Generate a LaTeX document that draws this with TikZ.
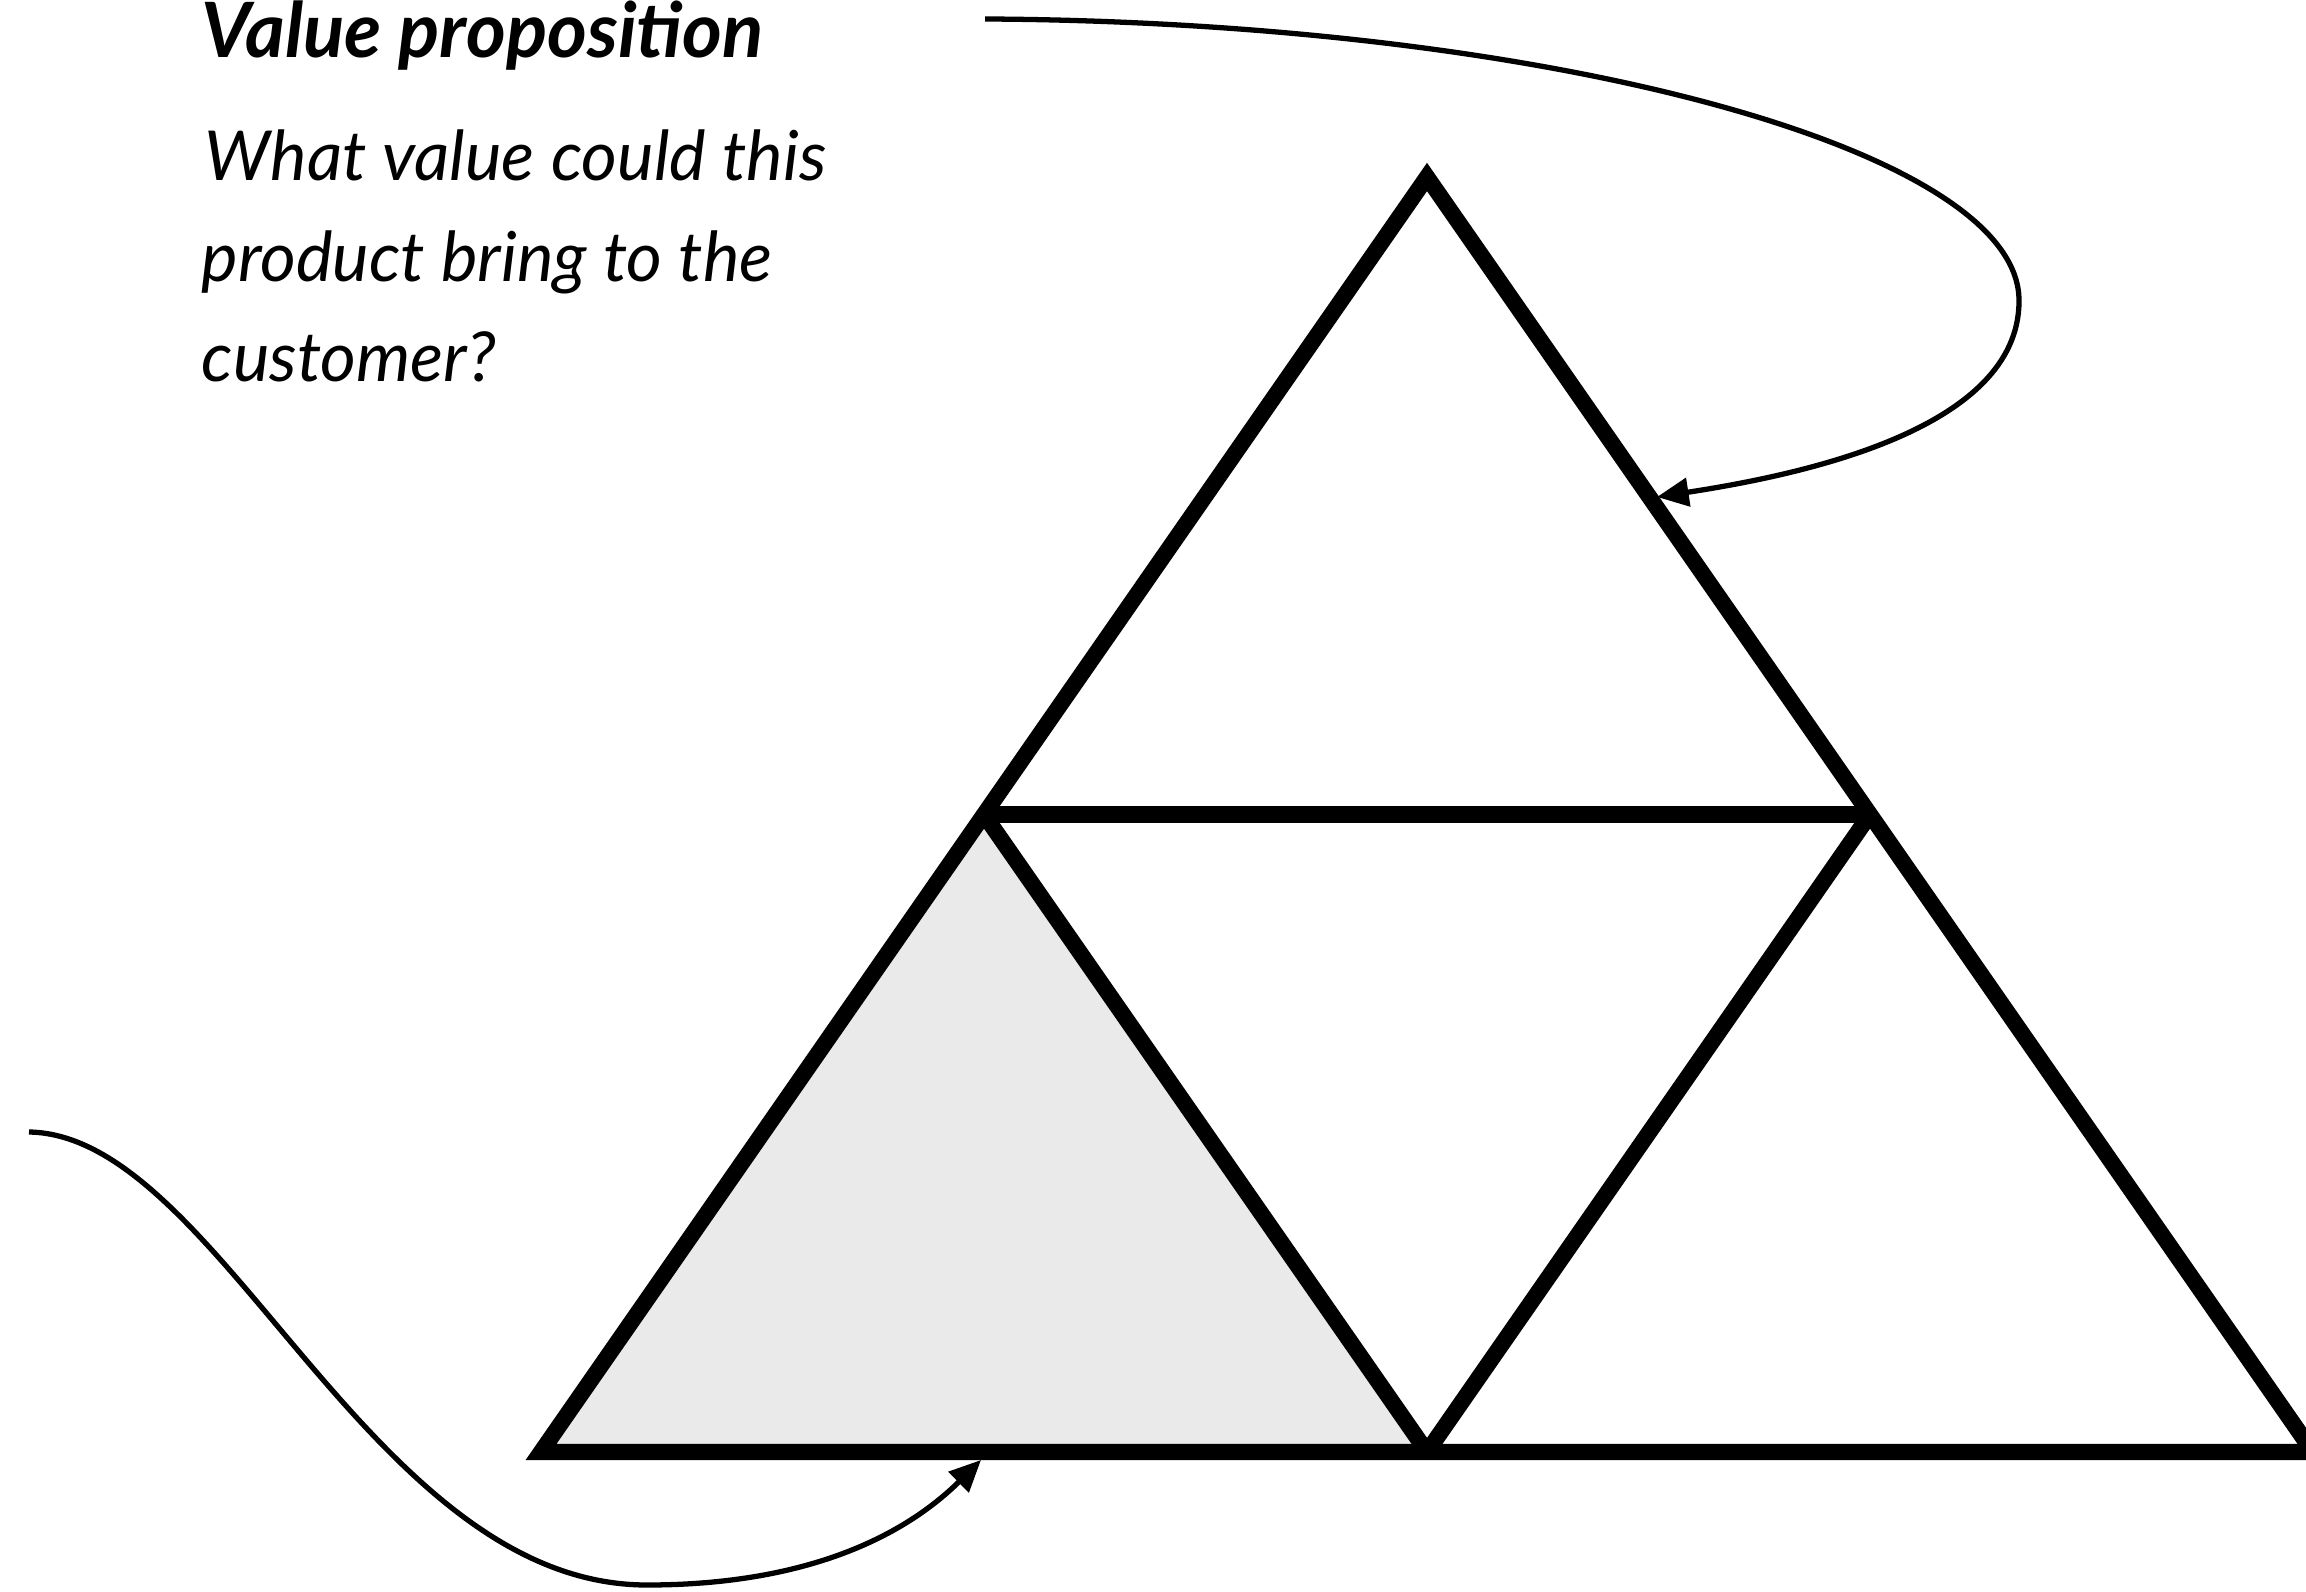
\documentclass[tikz,border=0pt]{standalone}
\usepackage{fontspec}
\newfontfamily\hand{Lato}
\usetikzlibrary{arrows.meta,calc}
\definecolor{panelgray}{HTML}{EAEAEA}
\tikzset{
  edge/.style={line width=4.6pt, line join=miter},
  pointer/.style={line width=1.5pt, -{Triangle[length=9pt,width=8pt]}},
  title/.style={anchor=base west, inner sep=0pt, font=\hand\itshape\bfseries\fontsize{21.7}{26}\selectfont},
  body/.style={anchor=base west, inner sep=0pt, font=\hand\itshape\fontsize{19.6}{23}\selectfont}
}
\begin{document}
\begin{tikzpicture}[x=0.01cm, y=-0.01cm]
\useasboundingbox (0,0) rectangle (2306,1592);
\clip (0,0) rectangle (2306,1592);
\fill[white] (0,0) rectangle (2306,1592);
% vertices
\coordinate (A) at (1427,177);
\coordinate (BL) at (541,1452);
\coordinate (BR) at (2313,1452);
\coordinate (BM) at (1427,1452);
\coordinate (L) at ($(A)!0.5!(BL)$);
\coordinate (R) at ($(A)!0.5!(BR)$);
% shaded lower-left triangle
\fill[panelgray] (BL) -- (L) -- (BM) -- cycle;
% triangle outlines
\draw[edge] (A) -- (BL) -- (BR) -- cycle;
\draw[edge] (L) -- (R);
\draw[edge] (L) -- (BM);
\draw[edge] (BM) -- (R);
% texts
\node[title] (vp) at (201,58) {Value proposition};
\node[body] (q1) at (204,181) {What value could this};
\node[body] (q2) at (201,282) {product bring to the};
\node[body] (q3) at (201,382) {customer?};
% connectors
\coordinate (s1) at (985,19);
\coordinate (m1) at (2019,301);
\coordinate (t1) at (1657,497);
\draw[pointer] (s1) .. controls (1550,22) and (2020,150) .. (m1)
  .. controls (2019,430) and (1800,475) .. (t1);
\coordinate (s2) at (29,1132);
\coordinate (m2) at (647,1585);
\coordinate (t2) at (981,1460);
\draw[pointer] (s2) .. controls (220,1135) and (370,1585) .. (m2)
  .. controls (800,1585) and (900,1540) .. (t2);
\end{tikzpicture}
\end{document}
